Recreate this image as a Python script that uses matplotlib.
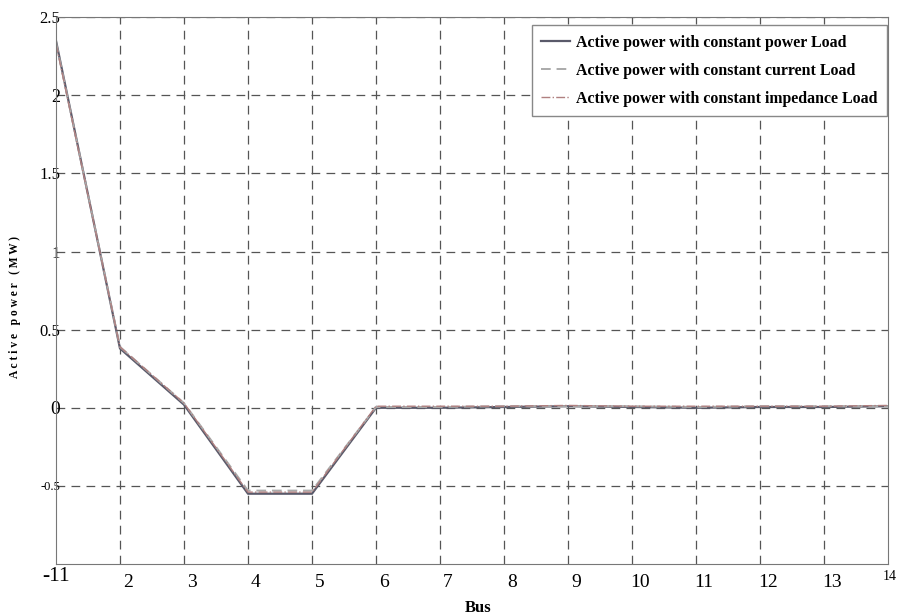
import numpy as np
import matplotlib.pyplot as plt
import matplotlib.transforms as mtransforms

# --- dados ---
bus = [1, 2, 3, 4, 5, 6, 7, 8, 9, 10, 11, 12, 13, 14]
p_const_power = [2.35, 0.38, 0.02, -0.55, -0.55, 0.0, 0.0, 0.005, 0.01, 0.005, 0.0, 0.005, 0.005, 0.01]
p_const_current = [2.34, 0.39, 0.03, -0.53, -0.53, 0.005, 0.005, 0.01, 0.01, 0.01, 0.005, 0.01, 0.01, 0.01]
p_const_impedance = [2.33, 0.39, 0.03, -0.54, -0.54, 0.01, 0.01, 0.01, 0.015, 0.01, 0.01, 0.01, 0.01, 0.015]

y_ticks = [2.5, 2, 1.5, 1, 0.5, 0, -0.5]
y_labels = ['2.5', '2', '1.5', '1', '0.5', '0', '-0.5']
y_label_sizes = [12, 13, 12, 12, 12, 14, 9]
x_ticks = [2, 3, 4, 5, 6, 7, 8, 9, 10, 11, 12, 13]

plt.rcParams['font.family'] = ['Liberation Serif', 'DejaVu Serif']

fig = plt.figure(figsize=(8.97, 6.14), dpi=100)
ax = fig.add_axes([0.0624, 0.0814, 0.9276, 0.8906])

ax.plot(bus, p_const_power, color='#5a5a6a', lw=1.6, ls='-',
        label='Active power with constant power Load')
ax.plot(bus, p_const_current, color='#aaaaaa', lw=1.4, ls=(0, (5, 3)),
        label='Active power with constant current Load')
ax.plot(bus, p_const_impedance, color='#b08080', lw=1.0, ls='-.',
        label='Active power with constant impedance Load')

ax.set_xlim(1, 14)
ax.set_ylim(-1, 2.5)
ax.set_xticks(x_ticks)
ax.set_xticklabels([str(t) for t in x_ticks], fontsize=14)
ax.set_yticks(y_ticks)
ax.set_yticklabels(y_labels)
for lab, fs in zip(ax.get_yticklabels(), y_label_sizes):
    lab.set_fontsize(fs)
ax.tick_params(axis='x', length=0, pad=7)
ax.tick_params(axis='y', length=0, pad=-3)

# rótulos do eixo x ligeiramente deslocados para a direita (como no original)
shift = mtransforms.ScaledTranslation(8 / 100, 0, fig.dpi_scale_trans)
for lab in ax.get_xticklabels():
    lab.set_transform(lab.get_transform() + shift)

# rótulos dos cantos
ax.text(1, -1.02, '-11', fontsize=15.5, ha='center', va='top')
ax.text(14.03, -1.04, '14', fontsize=10, ha='center', va='top')

ax.grid(True, color='#555555', ls=(0, (7, 5)), lw=0.9)
for s in ax.spines.values():
    s.set_color('#777777')

ax.set_xlabel('Bus', fontsize=12, fontweight='bold')
ax.xaxis.set_label_coords(0.507, -0.065)
fig.text(15 / 897, 0.5, 'A c t i v e   p o w e r   ( M W )', rotation=90,
         fontsize=8.3, fontweight='bold', ha='center', va='center')

leg = ax.legend(loc='upper right', bbox_to_anchor=(0.999, 1 - 8 / 548),
                prop={'weight': 'bold', 'size': 11.4},
                handlelength=1.8, handletextpad=0.4, borderaxespad=0,
                fancybox=False, edgecolor='#888888', framealpha=1,
                labelspacing=0.76, borderpad=0.6)

plt.savefig('out.png', dpi=100)
